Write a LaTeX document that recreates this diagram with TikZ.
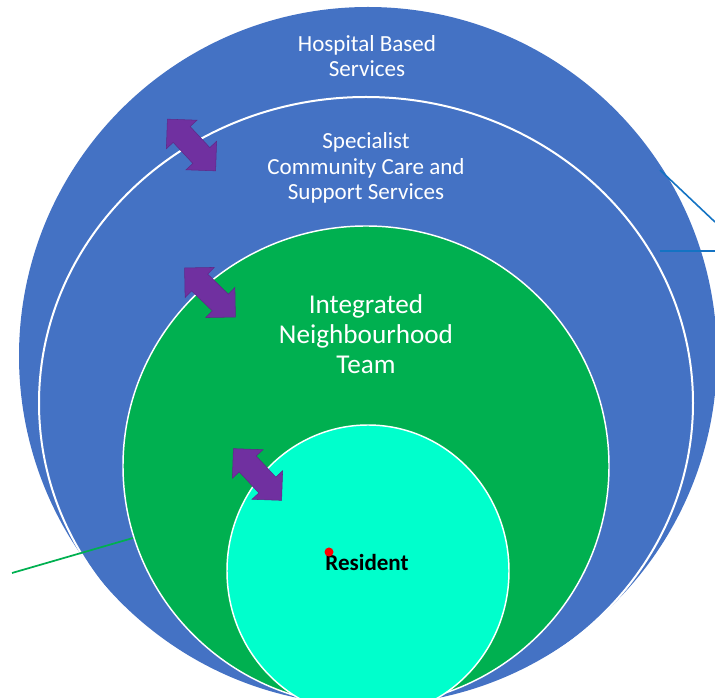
\documentclass[tikz,border=0pt]{standalone}
\usepackage{fontspec}
\setmainfont{Carlito}
\usetikzlibrary{shapes.arrows}
\definecolor{outerblue}{RGB}{68,114,196}
\definecolor{teamgreen}{RGB}{0,176,80}
\definecolor{residentaqua}{RGB}{0,255,204}
\definecolor{arrowpurple}{RGB}{112,48,160}
\definecolor{calloutblue}{RGB}{20,115,195}
\tikzset{
  ringtext/.style={text=white, align=center, font=\fontsize{17.3}{19.3}\selectfont},
  biarrow/.style={double arrow, fill=arrowpurple, draw=arrowpurple!85!black, line width=0.4pt,
    double arrow head extend=7pt, inner sep=8.5pt, minimum height=53pt},
}

\begin{document}
\begin{tikzpicture}[x=0.75pt,y=-0.75pt]
\useasboundingbox (0,0) rectangle (715,698);
\clip (0,0) rectangle (715,698);
% rings, outside in
\fill[outerblue] (368,356) circle [radius=349];
\draw[white, line width=1.5pt] (366,403) ellipse [x radius=327, y radius=306];
\fill[teamgreen] (366,466) ellipse [x radius=243, y radius=240];
\draw[white, line width=1.1pt] (366,466) ellipse [x radius=243, y radius=240];
\fill[residentaqua] (368,571) ellipse [x radius=141, y radius=146];
\draw[white, line width=1.1pt] (368,571) ellipse [x radius=141, y radius=146];
% labels
\node[ringtext] (hospital) at (367,56) {Hospital Based\\Services};
\node[ringtext] (specialist) at (366,168) {Specialist\\Community Care and\\Support Services};
\node[ringtext, font=\fontsize{20.4}{22.5}\selectfont] (team) at (366,334) {Integrated\\Neighbourhood\\Team};
\node[font=\bfseries\fontsize{17.3}{19}\selectfont] (resident) at (367,562) {Resident};
\fill[red] (329,552) circle [radius=4.5];
% two-way arrows
\node[biarrow, rotate=-47] (arrowA) at (191.5,145) {};
\node[biarrow, rotate=-44] (arrowB) at (210,292.5) {};
\node[biarrow, rotate=-47] (arrowC) at (257.5,474.5) {};
% callout lines
\coordinate (blueA) at (660,170);
\coordinate (blueB) at (715,222);
\coordinate (blueC) at (660,251);
\coordinate (blueD) at (715,251);
\coordinate (greenA) at (12,573);
\coordinate (greenB) at (133,538);
\draw[calloutblue, line width=1.2pt] (blueA) -- (blueB);
\draw[calloutblue, line width=1.2pt] (blueC) -- (blueD);
\draw[teamgreen, line width=1.3pt] (greenA) -- (greenB);
\end{tikzpicture}
\end{document}
